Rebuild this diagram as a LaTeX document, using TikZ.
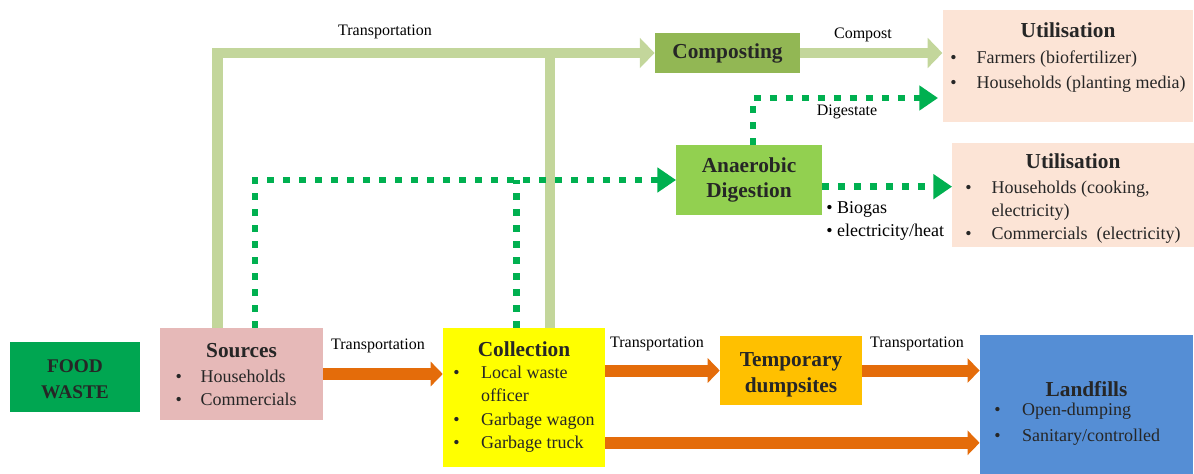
\documentclass[tikz,border=0pt]{standalone}
\usepackage{fontspec}
\setmainfont{Liberation Serif}
\usetikzlibrary{arrows.meta}

\definecolor{foodgreen}{RGB}{0,166,81}
\definecolor{srcpink}{RGB}{230,185,184}
\definecolor{collyellow}{RGB}{255,255,0}
\definecolor{dumporange}{RGB}{255,192,0}
\definecolor{landblue}{RGB}{85,142,213}
\definecolor{compgreen}{RGB}{146,183,84}
\definecolor{adgreen}{RGB}{146,208,80}
\definecolor{utilpeach}{RGB}{252,228,214}
\definecolor{leafgreen}{RGB}{195,214,155}
\definecolor{gasgreen}{RGB}{0,176,80}
\definecolor{roadorange}{RGB}{228,108,10}

\newcommand{\boxtitle}[1]{{\fontsize{16}{19}\selectfont\bfseries #1}}
\newcommand{\bul}{\textbullet}

\begin{document}
\begin{tikzpicture}[
    x=0.75pt, y=-0.75pt,
    font=\fontsize{13.5}{17.5}\selectfont,
    stage/.style={inner sep=0pt, align=center, text=black!85},
    lbl/.style={font=\fontsize{12}{17}\selectfont, inner sep=0pt},
    road/.style={draw=roadorange, line width=9pt,
                 -{Triangle[width=18pt,length=9pt]}},
    leaf/.style={draw=leafgreen, line width=8pt},
    leafarrow/.style={leaf, -{Triangle[width=22pt,length=11pt]}},
    gas/.style={draw=gasgreen, line width=5pt, dash pattern=on 5pt off 7pt},
    gasarrow/.style={gas, -{Triangle[width=18pt,length=14pt]}}
  ]
  \useasboundingbox (0,0) rectangle (1194,474);

  % boxes along the bottom row
  \node[stage, fill=foodgreen, minimum width=97.5pt, minimum height=52pt,
        font=\fontsize{14.5}{20}\selectfont\bfseries] (food) at (75,377)
    {\rule{0pt}{13pt}FOOD\\WASTE};
  \node[stage, fill=srcpink, minimum width=122pt, minimum height=69pt] (src) at (241.5,374)
    {\boxtitle{\rule{0pt}{17pt}Sources}\\[5pt]
     \begin{tabular}{@{}l@{\hspace{14pt}}l@{\hspace{8pt}}}
       \bul & Households\\ \bul & Commercials
     \end{tabular}};
  \node[stage, fill=collyellow, minimum width=121.5pt, minimum height=104pt] (coll) at (524,397.5)
    {\boxtitle{\rule{0pt}{13pt}Collection}\\[3pt]
     \begin{tabular}{@{}l@{\hspace{16pt}}l@{}}
       \bul & Local waste\\ & officer\\ \bul & Garbage wagon\\ \bul & Garbage truck
     \end{tabular}};
  \node[stage, fill=dumporange, minimum width=106.5pt, minimum height=52pt,
        font=\fontsize{16}{19}\selectfont\bfseries] (temp) at (791,370.5)
    {\rule{0pt}{17pt}Temporary\\dumpsites};
  \node[stage, fill=landblue, minimum width=160pt, minimum height=104pt,
        font=\fontsize{13.5}{19}\selectfont] (land) at (1086.5,404.5)
    {\boxtitle{\rule{0pt}{27pt}Landfills}\\
     \begin{tabular}{@{}l@{\hspace{16pt}}l@{\hspace{14pt}}}
       \bul & Open-dumping\\ \bul & Sanitary/controlled
     \end{tabular}};

  % treatment and use
  \node[stage, fill=compgreen, minimum width=109pt, minimum height=30pt,
        font=\fontsize{16}{19}\selectfont\bfseries] (comp) at (727.5,53) {Composting};
  \node[stage, fill=adgreen, minimum width=109pt, minimum height=52pt,
        font=\fontsize{16}{19}\selectfont\bfseries] (ad) at (749,180) {Anaerobic\\Digestion};
  \node[stage, fill=utilpeach, minimum width=188pt, minimum height=84pt,
        font=\fontsize{13.5}{19}\selectfont] (util1) at (1068,66)
    {\boxtitle{Utilisation}\\[5pt]
     \begin{tabular}{@{}l@{\hspace{15pt}}l@{}}
       \bul & Farmers\ (biofertilizer)\\
       \bul & Households (planting media)\rule[-16pt]{0pt}{16pt}
     \end{tabular}};
  \node[stage, fill=utilpeach, minimum width=181pt, minimum height=75pt,
        font=\fontsize{13.5}{17.5}\selectfont] (util2) at (1073,195)
    {\boxtitle{\rule{0pt}{19pt}Utilisation}\\[5pt]
     \begin{tabular}{@{}l@{\hspace{15pt}}l@{}}
       \bul & Households (cooking,\\ & electricity)\\
       \bul & Commercials\ \ (electricity)
     \end{tabular}};

  % light green: composting route
  \draw[leafarrow] ([xshift=-18pt]src.north) |- (comp.west);
  \draw[leaf] ([xshift=19.5pt]coll.north) -- ([xshift=19.5pt]coll.north |- comp.west);
  \draw[leafarrow] (comp.east) -- (comp.east -| util1.west);

  % dotted green: digestion route
  \coordinate (dgend) at (938,98);
  \draw[gasarrow] ([xshift=10pt]src.north) |- (ad.west);
  \draw[gas] ([xshift=-5.5pt]coll.north) -- ([xshift=-5.5pt]coll.north |- ad.west);
  \draw[gasarrow] ([xshift=3pt]ad.north) |- (dgend);
  \draw[gasarrow] ([yshift=-5pt]ad.east) -- ([yshift=-5pt]ad.east -| util2.west);

  % orange: landfill route
  \coordinate (lowout) at ([yshift=-34pt]coll.east);
  \draw[road] (src.east) -- (src.east -| coll.west);
  \draw[road] (coll.east |- temp.west) -- (temp.west);
  \draw[road] (temp.east) -- (temp.east -| land.west);
  \draw[road] (lowout) -- (lowout -| land.west);

  % labels on the routes
  \node[lbl] (trtop) at (385,32) {Transportation};
  \node[lbl] (tr1) at (378,346) {Transportation};
  \node[lbl] (tr2) at (657,344) {Transportation};
  \node[lbl] (tr3) at (917,344) {Transportation};
  \node[lbl] (cmp) at (863,35) {Compost};
  \node[lbl] (dig) at (847,112) {Digestate};
  \node[lbl, align=left, anchor=west, font=\fontsize{13.5}{17.5}\selectfont] (gasuse) at (826,221)
    {\bul\ Biogas\\ \bul\ electricity/heat};
\end{tikzpicture}
\end{document}
